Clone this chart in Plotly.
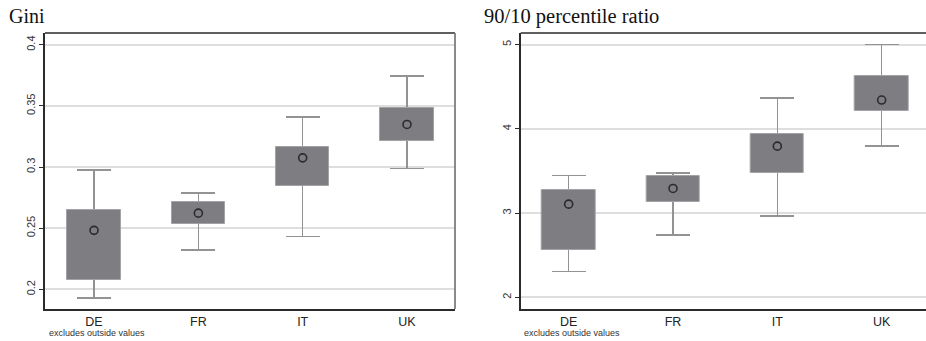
import plotly.graph_objects as go

countries = ["DE", "FR", "IT", "UK"]

# Gini
gini_lower = [0.1931, 0.2321, 0.2430, 0.2989]
gini_q1 = [0.2074, 0.2534, 0.2841, 0.3212]
gini_median = [0.2482, 0.2623, 0.3075, 0.3348]
gini_q3 = [0.2645, 0.2713, 0.3160, 0.3479]
gini_upper = [0.2977, 0.2789, 0.3410, 0.3745]

# 90/10 percentile ratio
p9010_lower = [2.309, 2.737, 2.967, 3.799]
p9010_q1 = [2.559, 3.130, 3.478, 4.215]
p9010_median = [3.106, 3.293, 3.795, 4.343]
p9010_q3 = [3.276, 3.435, 3.942, 4.624]
p9010_upper = [3.447, 3.478, 4.370, 5.000]

gini_ticks = [0.2, 0.25, 0.3, 0.35, 0.4]
gini_ticktext = ["0.2", "0.25", "0.3", "0.35", "0.4"]
p9010_ticks = [2, 3, 4, 5]
p9010_ticktext = ["2", "3", "4", "5"]

BOX_FILL = "#7d7d82"
BOX_EDGE = "#a3a3a7"
WHISKER = "#939393"
DARK = "#2b2b2b"
GRID = "#dedede"
SANS = "Liberation Sans, Arial, sans-serif"
SERIF = "Liberation Serif, Times New Roman, serif"

fig = go.Figure()


def add_panel(lower, q1, med, q3, upper, xa, ya):
    # whiskers (drawn first, covered by boxes)
    fig.add_trace(go.Bar(
        x=countries, y=med, xaxis=xa, yaxis=ya,
        marker=dict(color="rgba(0,0,0,0)", line=dict(width=0)),
        width=0.51, showlegend=False, hoverinfo="skip",
        error_y=dict(type="data", symmetric=False,
                     array=[u - m for u, m in zip(upper, med)],
                     arrayminus=[m - l for m, l in zip(med, lower)],
                     color=WHISKER, thickness=1.5, width=17),
    ))
    # boxes
    fig.add_trace(go.Bar(
        x=countries, y=[b - a for a, b in zip(q1, q3)], base=q1,
        xaxis=xa, yaxis=ya, width=0.51, showlegend=False,
        marker=dict(color=BOX_FILL, line=dict(color=BOX_EDGE, width=1)),
    ))
    # medians
    fig.add_trace(go.Scatter(
        x=countries, y=med, xaxis=xa, yaxis=ya, mode="markers",
        showlegend=False,
        marker=dict(symbol="circle", size=8, color=BOX_FILL,
                    line=dict(color=DARK, width=1.6)),
    ))


add_panel(gini_lower, gini_q1, gini_median, gini_q3, gini_upper, "x", "y")
add_panel(p9010_lower, p9010_q1, p9010_median, p9010_q3, p9010_upper, "x2", "y2")

W, H = 926, 341
ydom = [1 - 309 / H, 1 - 33 / H]

xcommon = dict(type="category", categoryorder="array", categoryarray=countries,
               showgrid=False, zeroline=False, showline=True, linecolor=DARK,
               linewidth=1.5, ticks="", tickfont=dict(family=SANS, size=12.5, color="#222"),
               fixedrange=True)
ycommon = dict(showgrid=True, gridcolor=GRID, gridwidth=1.5, zeroline=False,
               showline=True, linecolor=DARK, linewidth=1.5, ticks="outside",
               ticklen=4, tickwidth=1, tickcolor=DARK, tickangle=-90,
               tickfont=dict(family=SANS, size=11, color="#333"), fixedrange=True)

fig.update_layout(
    width=W, height=H,
    margin=dict(l=0, r=0, t=0, b=0),
    paper_bgcolor="white", plot_bgcolor="white",
    barmode="overlay", bargap=0,
    showlegend=False,
    xaxis=dict(domain=[45 / W, 455 / W], range=[-0.47, 3.46], anchor="y", **xcommon),
    yaxis=dict(domain=ydom, range=[0.1839, 0.4096], anchor="x",
               tickvals=gini_ticks, ticktext=gini_ticktext, **ycommon),
    xaxis2=dict(domain=[520.7 / W, 1.0], range=[-0.46, 3.425], anchor="y2", **xcommon),
    yaxis2=dict(domain=ydom, range=[1.861, 5.139], anchor="x2",
                tickvals=p9010_ticks, ticktext=p9010_ticktext, **ycommon),
    shapes=[
        dict(type="line", xref="x domain", yref="y domain", x0=0, x1=1, y0=1, y1=1,
             line=dict(color=DARK, width=1.5), layer="above"),
        dict(type="line", xref="x domain", yref="y domain", x0=1, x1=1, y0=0, y1=1,
             line=dict(color="#8a8a8a", width=2), layer="above"),
        dict(type="line", xref="x2 domain", yref="y2 domain", x0=0, x1=1, y0=1, y1=1,
             line=dict(color=DARK, width=1.5), layer="above"),
    ],
    annotations=[
        dict(text="Gini", xref="paper", yref="paper", x=7 / W, y=1 - 16.5 / H,
             xanchor="left", yanchor="middle", showarrow=False,
             font=dict(family=SERIF, size=20, color="#111")),
        dict(text="90/10 percentile ratio", xref="paper", yref="paper", x=482 / W,
             y=1 - 16.5 / H, xanchor="left", yanchor="middle", showarrow=False,
             font=dict(family=SERIF, size=20.5, color="#111")),
        dict(text="excludes outside values", xref="paper", yref="paper", x=47 / W,
             y=1 - 332.5 / H, xanchor="left", yanchor="middle", showarrow=False,
             font=dict(family=SANS, size=9, color="#333")),
        dict(text="excludes outside values", xref="paper", yref="paper", x=522 / W,
             y=1 - 332.5 / H, xanchor="left", yanchor="middle", showarrow=False,
             font=dict(family=SANS, size=9, color="#333")),
    ],
)

fig.write_html("out.html",
               config={"displayModeBar": False},
               post_script="document.body.style.margin='0';"
                           "document.body.style.overflow='hidden';")
